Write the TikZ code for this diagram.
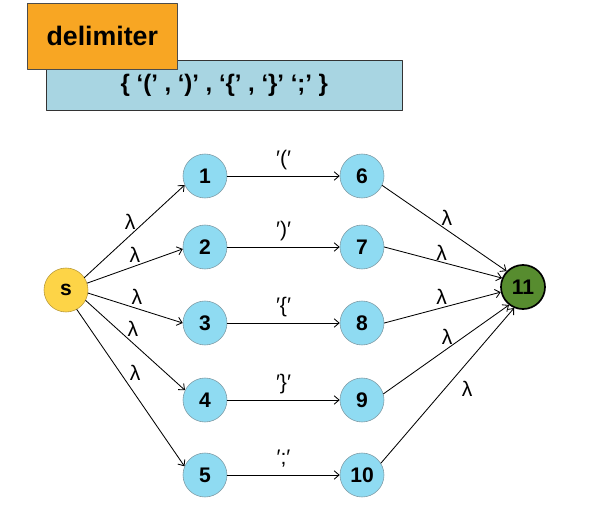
\documentclass[tikz,border=0pt]{standalone}
\usepackage{fontspec}
\setmainfont{Liberation Sans}
\usetikzlibrary{shadows, arrows.meta}

\definecolor{tagorange}{HTML}{F8A623}
\definecolor{setblue}{HTML}{A8D5E2}
\definecolor{stateblue}{HTML}{8FDBF2}
\definecolor{stateedge}{HTML}{7F9BA5}
\definecolor{startyellow}{HTML}{FDD447}
\definecolor{startedge}{HTML}{B8993A}
\definecolor{finalgreen}{HTML}{578C2F}

\begin{document}
\begin{tikzpicture}[x=0.025cm, y=-0.025cm, >={Straight Barb[length=3.5pt, width=6pt]},
		line cap=round, line join=round,
		state/.style={circle, draw=stateedge, fill=stateblue, minimum size=1.1cm, inner sep=0pt,
			font=\fontsize{15}{17}\selectfont\bfseries},
		startstate/.style={state, draw=startedge, fill=startyellow},
		finalstate/.style={state, draw=black, line width=1.2pt, fill=finalgreen},
		lam/.style={font=\fontsize{15}{17}\selectfont, inner sep=1pt},
		sym/.style={lam, text height=0.75em, text depth=0.2em},
		trans/.style={->, line width=0.6pt}]
	% Keep the reference margins
	\useasboundingbox (0,0) rectangle (597,511);
	
	% Token set and its tag
	\node[draw=black!80, fill=setblue, minimum width=8.9cm, minimum height=1.25cm, anchor=north west,
	drop shadow={shadow xshift=0.6pt, shadow yshift=-0.8pt, opacity=0.35}] (tokens) at (46,60)
	{\fontsize{17}{19}\selectfont\bfseries \{ ‘(’ , ‘)’ , ‘\{’ , ‘\}’ ‘;’ \}};
	\node[draw=black!70, fill=tagorange, minimum width=3.75cm, minimum height=1.65cm, anchor=north west,
	drop shadow={shadow xshift=0.6pt, shadow yshift=-0.8pt, opacity=0.35}] (tag) at (27,3)
	{\fontsize{19}{22}\selectfont\bfseries delimiter};
	
	% States
	\node[startstate] (s) at (66,290) {s};
	\foreach \n/\y in {1/176, 2/247, 3/323, 4/400, 5/475}
	\node[state] (n\n) at (205,\y) {\n};
	\foreach \n/\y in {6/176, 7/247, 8/323, 9/400, 10/475}
	\node[state] (n\n) at (362,\y) {\n};
	\node[finalstate] (n11) at (523,287) {11};
	
	% Lambda moves out of s
	\draw[trans] (s.34) -- node[lam, pos=0.455, above=3.1pt] {λ} (n1.204);
	\draw[trans] (s.18) -- node[lam, pos=0.50, above=1.3pt] {λ} (n2.185);
	\draw[trans] (s.-8) -- node[lam, pos=0.517, above=1.8pt] {λ} (n3.180);
	\draw[trans] (s.-28) -- node[lam, pos=0.475, above=3.2pt] {λ} (n4.154);
	\draw[trans] (s.-61) -- node[lam, pos=0.404, right=5.5pt] {λ} (n5.157);
	
	% One move per delimiter
	\draw[trans] (n1) -- node[sym, pos=0.5, above=4pt] {′(′} (n6);
	\draw[trans] (n2) -- node[sym, pos=0.5, above=4pt] {′)′} (n7);
	\draw[trans] (n3) -- node[sym, pos=0.5, above=4pt] {′\{′} (n8);
	\draw[trans] (n4) -- node[sym, pos=0.5, above=4pt] {′\}′} (n9);
	\draw[trans] (n5) -- node[sym, pos=0.5, above=4pt] {′;′} (n10);
	
	% Lambda moves into the final state
	\draw[trans] (n6.-25) -- node[lam, pos=0.52, above=2.2pt] {λ} (n11.136);
	\draw[trans] (n7.0) -- node[lam, pos=0.488, above=0pt] {λ} (n11.157);
	\draw[trans] (n8.0) -- node[lam, pos=0.493, above=1.3pt] {λ} (n11.193);
	\draw[trans] (n9.16) -- node[lam, pos=0.508, above=1.6pt] {λ} (n11.232);
	\draw[trans] (n10.32) -- node[lam, pos=0.479, right=11pt] {λ} (n11.247);
\end{tikzpicture}
\end{document}
